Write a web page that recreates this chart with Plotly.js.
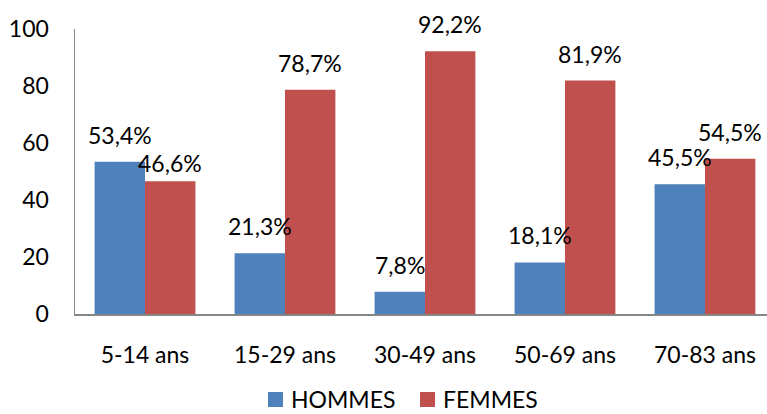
<!DOCTYPE html>
<html>
<head>
<meta charset="utf-8">
<script src="https://cdn.plot.ly/plotly-3.0.1.min.js"></script>
<style>
  html, body { margin: 0; padding: 0; background: #fff; }
  #chart { width: 767px; height: 414px; }
</style>
</head>
<body>
<div id="chart"></div>
<script>
// Age groups and share (%) per sex
const ageGroups = ['5-14 ans', '15-29 ans', '30-49 ans', '50-69 ans', '70-83 ans'];
const hommes = [53.4, 21.3, 7.8, 18.1, 45.5];
const femmes = [46.6, 78.7, 92.2, 81.9, 54.5];
const seriesNames = ['HOMMES', 'FEMMES'];
const yTicks = [0, 20, 40, 60, 80, 100];

const blue = '#4F81BD';
const red = '#C0504D';
const colors = [blue, red];
const fontFamily = 'Lato, "Open Sans", sans-serif';
const fontSize = 23;
const bargap = 0.28;

// plot box in pixels, used to place the hand-drawn legend under the axis
const W = 767, H = 414;
const M = { l: 75, r: 0, t: 29, b: 100 };
const plotW = W - M.l - M.r, plotH = H - M.t - M.b;
const px2x = px => (px - M.l) / plotW;
const py2y = py => (H - M.b - py) / plotH;

const fmt = v => v.toFixed(1).replace('.', ',') + '%';

const traces = [hommes, femmes].map((vals, s) => ({
  type: 'bar', name: seriesNames[s], x: ageGroups, y: vals,
  marker: { color: colors[s] }, showlegend: false
}));

// value labels floating above each bar
const barOffset = (1 - bargap) / 4;
const annotations = [];
[hommes, femmes].forEach((vals, s) => {
  vals.forEach((v, i) => {
    // the first female label sits lower, just beside its neighbour
    const shift = (s === 1 && i === 0) ? 18 : 27;
    annotations.push({
      xref: 'x', yref: 'y',
      x: i + (s === 0 ? -barOffset : barOffset),
      y: v,
      text: fmt(v),
      showarrow: false,
      yanchor: 'middle',
      yshift: shift,
      font: { family: fontFamily, size: fontSize, color: '#000' }
    });
  });
});

// legend: coloured square + series name, centred under the chart
const shapes = [];
const legendStart = [268, 420];
const legendY = 399;
seriesNames.forEach((name, s) => {
  const x0 = legendStart[s];
  shapes.push({
    type: 'rect', xref: 'paper', yref: 'paper',
    x0: px2x(x0), x1: px2x(x0 + 15),
    y0: py2y(legendY + 8), y1: py2y(legendY - 7),
    fillcolor: colors[s], line: { width: 0 }
  });
  annotations.push({
    xref: 'paper', yref: 'paper',
    x: px2x(x0 + 21), y: py2y(legendY),
    xanchor: 'left', yanchor: 'middle',
    text: name, showarrow: false,
    font: { family: fontFamily, size: fontSize, color: '#000' }
  });
});

const layout = {
  width: W, height: H,
  margin: M,
  paper_bgcolor: '#fff', plot_bgcolor: '#fff',
  barmode: 'group', bargap: bargap, bargroupgap: 0,
  showlegend: false,
  xaxis: {
    type: 'category',
    range: [-0.5, 4.443],
    showline: true, linecolor: '#868686', linewidth: 1.5,
    ticks: '', ticklabelstandoff: 20,
    tickfont: { family: fontFamily, size: fontSize, color: '#000' },
    showgrid: false, zeroline: false, fixedrange: true
  },
  yaxis: {
    range: [0, 100],
    tickvals: yTicks,
    showline: true, linecolor: '#868686', linewidth: 1.5,
    ticks: '', ticklabelstandoff: 20,
    tickfont: { family: fontFamily, size: fontSize, color: '#000' },
    showgrid: false, zeroline: false, fixedrange: true
  },
  shapes: shapes,
  annotations: annotations
};

Plotly.newPlot('chart', traces, layout, { displayModeBar: false, staticPlot: true });
</script>
</body>
</html>
